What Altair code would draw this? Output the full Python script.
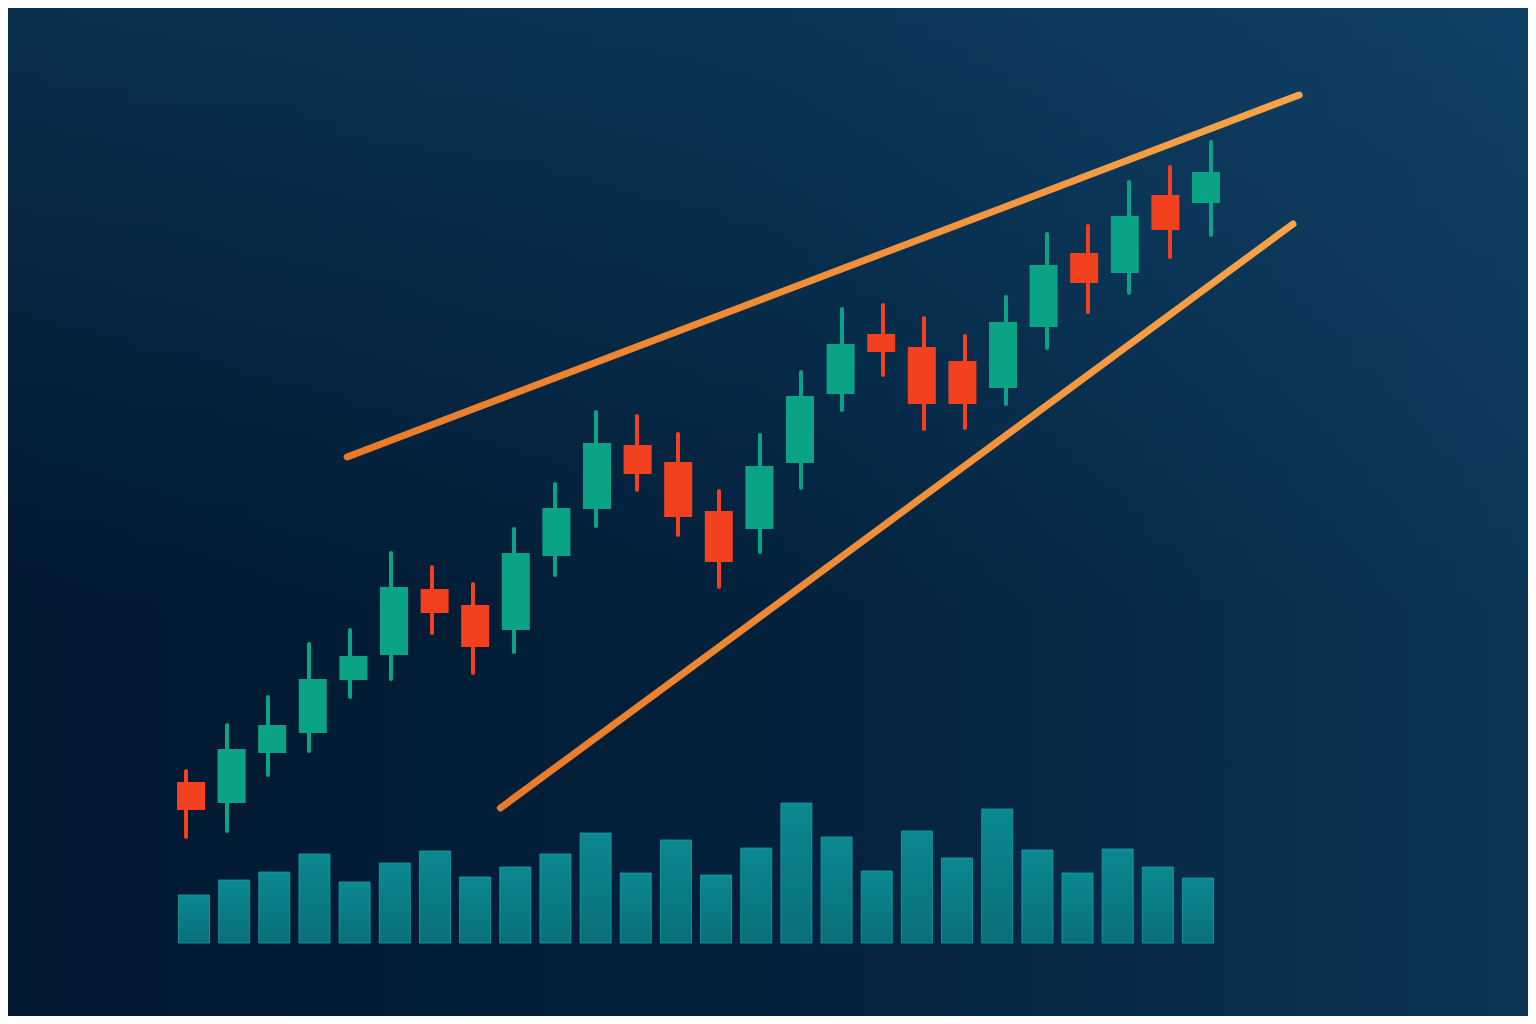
import altair as alt
import pandas as pd

# ---- data ----
days = list(range(1, 27))
opens = [111.8, 109.7, 114.7, 116.7, 122.0, 124.5, 131.1, 129.5, 127.0, 134.4,
         139.1, 145.5, 143.8, 138.9, 137.1, 143.7, 150.6, 156.6, 155.3, 153.9,
         151.2, 157.3, 164.7, 162.7, 170.5, 169.7]
closes = [109.0, 115.1, 117.5, 122.1, 124.4, 131.3, 128.7, 125.3, 134.7, 139.2,
          145.7, 142.6, 138.3, 133.8, 143.4, 150.4, 155.6, 154.8, 149.6, 149.6,
          157.8, 163.5, 161.7, 168.4, 167.0, 172.8]
highs = [112.9, 117.5, 120.3, 125.6, 127.0, 134.7, 133.3, 131.6, 137.1, 141.6,
         148.8, 148.4, 146.6, 140.9, 146.5, 152.8, 159.1, 159.5, 158.2, 156.4,
         160.3, 166.6, 167.4, 171.8, 173.3, 175.8]
lows = [106.3, 106.9, 112.5, 114.9, 120.3, 122.1, 126.7, 122.7, 124.8, 132.5,
        137.4, 141.0, 136.5, 131.3, 134.8, 141.2, 149.0, 152.5, 147.1, 147.2,
        149.6, 155.2, 158.8, 160.7, 164.3, 166.5]
volumes = [480, 630, 710, 890, 610, 800, 920, 660, 760, 890,
           1100, 700, 1030, 680, 950, 1400, 1060, 720, 1120, 850,
           1340, 930, 700, 940, 760, 650]

upper_days = [4.93, 28.15]
upper_prices = [144.3, 180.5]
lower_days = [8.67, 28.0]
lower_prices = [109.2, 167.6]

# ---- tables ----
candles = pd.DataFrame({
    "day": days, "open": opens, "close": closes, "high": highs, "low": lows,
})
candles["direction"] = ["up" if c > o else "down" for o, c in zip(opens, closes)]
vol = pd.DataFrame({"day": days, "volume": volumes})
upper = pd.DataFrame({"day": upper_days, "price": upper_prices})
lower = pd.DataFrame({"day": lower_days, "price": lower_prices})

W, H = 1520, 1008
GREEN = "#0aa386"
RED = "#f3411f"

x_price = alt.Scale(domain=[1, 26], range=[178, 1203], nice=False, zero=False)
y_price = alt.Scale(domain=[100, 180], range=[892, 92], nice=False, zero=False)
x_vol = alt.Scale(domain=[1, 26], range=[181, 1195], nice=False, zero=False)
y_vol = alt.Scale(domain=[0, 1400], range=[935, 795], nice=False)

dir_color = alt.Color("direction:N",
                      scale=alt.Scale(domain=["up", "down"], range=[GREEN, RED]),
                      legend=None)

bg_grad = alt.Gradient(
    gradient="linear", x1=0, y1=0, x2=1, y2=0,
    stops=[alt.GradientStop(color="#02182f", offset=0),
           alt.GradientStop(color="#03213c", offset=0.5),
           alt.GradientStop(color="#0c3556", offset=1)],
)
bg_top = alt.Gradient(
    gradient="linear", x1=0, y1=0, x2=0, y2=1,
    stops=[alt.GradientStop(color="rgba(22,84,128,0.38)", offset=0),
           alt.GradientStop(color="rgba(22,84,128,0)", offset=0.6)],
)
background = alt.Chart(pd.DataFrame({"v": [0]})).mark_rect(fill=bg_grad).encode(
    x=alt.value(0), x2=alt.value(W), y=alt.value(0), y2=alt.value(H)
)
background_top = alt.Chart(pd.DataFrame({"v": [0]})).mark_rect(fill=bg_top).encode(
    x=alt.value(0), x2=alt.value(W), y=alt.value(0), y2=alt.value(H)
)

line_grad = alt.Gradient(
    gradient="linear", x1=0, y1=1, x2=1, y2=0,
    stops=[alt.GradientStop(color="#ea7a28", offset=0),
           alt.GradientStop(color="#f8a448", offset=1)],
)
upper_line = alt.Chart(upper).mark_line(
    stroke=line_grad, strokeWidth=7, strokeCap="round"
).encode(
    x=alt.X("day:Q", scale=x_price, axis=None),
    y=alt.Y("price:Q", scale=y_price, axis=None),
)
lower_line = alt.Chart(lower).mark_line(
    stroke=line_grad, strokeWidth=7, strokeCap="round"
).encode(
    x=alt.X("day:Q", scale=x_price, axis=None),
    y=alt.Y("price:Q", scale=y_price, axis=None),
)

vol_grad = alt.Gradient(
    gradient="linear", x1=0, y1=0, x2=0, y2=1,
    stops=[alt.GradientStop(color="#0b8890", offset=0),
           alt.GradientStop(color="#096f7a", offset=1)],
)
volume_bars = alt.Chart(vol).mark_bar(
    size=31, fill=vol_grad, stroke="#14a0a9", strokeWidth=1, strokeOpacity=0.8
).encode(
    x=alt.X("day:Q", scale=x_vol, axis=None),
    y=alt.Y("volume:Q", scale=y_vol, axis=None),
)

wicks = alt.Chart(candles).mark_rule(strokeWidth=4, strokeCap="round").encode(
    x=alt.X("day:Q", scale=x_price, axis=None),
    y=alt.Y("low:Q", scale=y_price, axis=None),
    y2="high:Q",
    color=dir_color,
)
bodies = alt.Chart(candles).mark_bar(size=28).encode(
    x=alt.X("day:Q", scale=x_price, axis=None),
    y=alt.Y("open:Q", scale=y_price, axis=None),
    y2="close:Q",
    color=dir_color,
)

chart = alt.layer(
    background, background_top, upper_line, lower_line, volume_bars, wicks, bodies
).resolve_scale(
    x="independent", y="independent"
).properties(
    width=W, height=H, padding=0,
    autosize=alt.AutoSizeParams(type="none"),
).configure_view(stroke=None).configure(background="#031a30")

chart.save("out.html", embed_options={"renderer": "svg", "actions": False})
